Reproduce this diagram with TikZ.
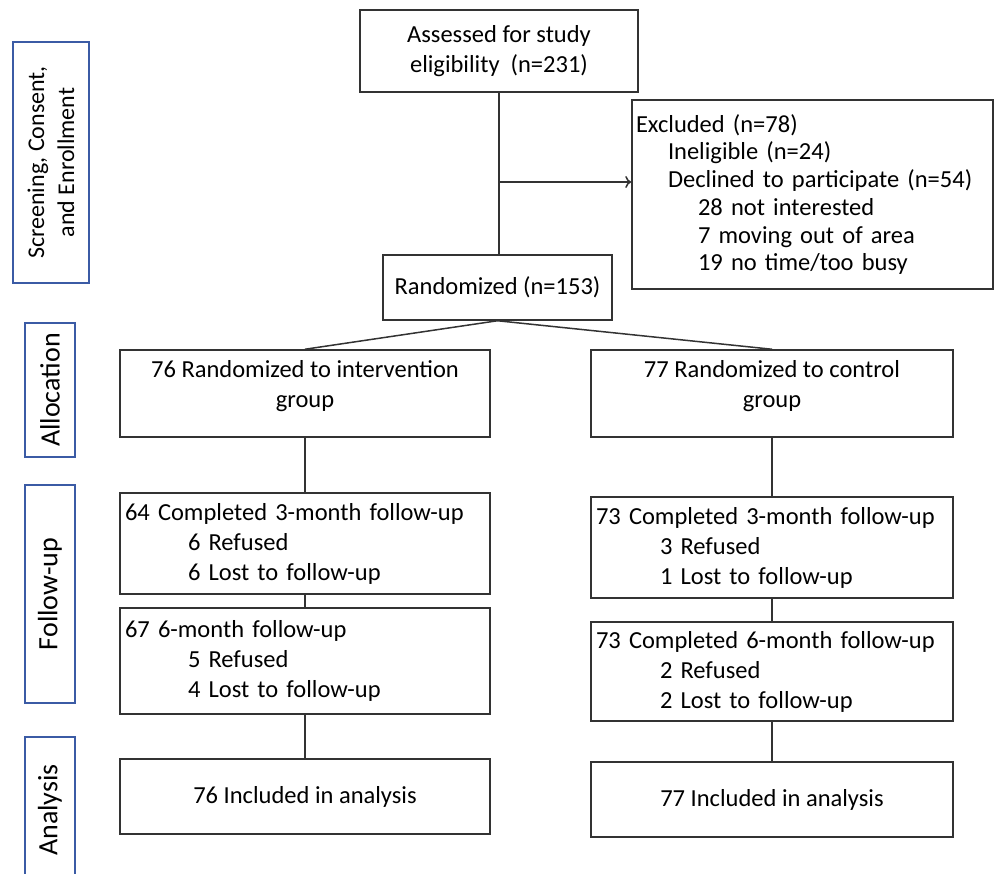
\documentclass[tikz,border=0pt]{standalone}
\usepackage{fontspec}
\setmainfont{Carlito}
\usetikzlibrary{arrows.meta}
\definecolor{boxline}{HTML}{333333}
\definecolor{labblue}{HTML}{3B5BA5}
\tikzset{
  box/.style={draw=boxline, line width=1.5pt, inner sep=0pt, font=\fontsize{24.5}{30}\selectfont, align=center},
  lbox/.style={draw=boxline, line width=1.5pt, inner ysep=0pt, inner xsep=5pt, font=\fontsize{24.5}{30}\selectfont, align=left},
  stagebox/.style={draw=labblue, line width=2.4pt, rotate=90, inner sep=0pt, font=\fontsize{28}{30}\selectfont, align=center},
  conn/.style={draw=boxline, line width=1.5pt},
}
\begin{document}
\begin{tikzpicture}[x=1pt,y=-1pt]
\useasboundingbox (0,0) rectangle (995,874);
% stage labels
\node[stagebox, minimum width=241pt, minimum height=76pt, font=\fontsize{24}{30}\selectfont] (scr) at (51,162.5) {Screening, Consent,\\and Enrollment};
\node[stagebox, minimum width=134pt, minimum height=50pt] (alloc) at (50,390) {Allocation};
\node[stagebox, minimum width=218pt, minimum height=50pt] (fol) at (50,594) {Follow-up};
\node[stagebox, minimum width=146pt, minimum height=50pt] (ana) at (50,810) {Analysis};
% top boxes
\node[box, minimum width=278pt, minimum height=82pt] (assess) at (499,51) {Assessed for study\\eligibility~ (n=231)};
\node[box, minimum width=229pt, minimum height=65pt] (rand) at (497.5,287.5) {Randomized (n=153)};
\node[lbox, text width=353pt, inner xsep=4pt, minimum height=189pt, font=\fontsize{24.5}{27.7}\selectfont] (excl) at (812.5,194.5) {Excluded (n=78)\\
\hspace*{32pt}Ineligible (n=24)\\
\hspace*{32pt}Declined to participate (n=54)\\
\hspace*{62pt}28 not interested\\
\hspace*{62pt}7 moving out of area\\
\hspace*{62pt}19 no time/too busy};
% allocation
\node[box, minimum width=370pt, minimum height=87pt] (interv) at (305,393.5) {76 Randomized to intervention\\group\\[-10pt]};
\node[box, minimum width=362pt, minimum height=87pt] (ctrl) at (772,393.5) {77 Randomized to control\\group\\[-10pt]};
% follow-up
\node[lbox, text width=360pt, minimum height=101pt] (i3) at (305,543.5) {64 Completed 3-month follow-up\\
\hspace*{63pt}6 Refused\\
\hspace*{63pt}6 Lost to follow-up};
\node[lbox, text width=352pt, minimum height=101pt] (c3) at (772,547.5) {73 Completed 3-month follow-up\\
\hspace*{64pt}3 Refused\\
\hspace*{64pt}1 Lost to follow-up};
\node[lbox, text width=360pt, minimum height=106pt] (i6) at (305,661) {67 6-month follow-up\\
\hspace*{63pt}5 Refused\\
\hspace*{63pt}4 Lost to follow-up};
\node[lbox, text width=352pt, minimum height=99pt] (c6) at (772,671.5) {73 Completed 6-month follow-up\\
\hspace*{64pt}2 Refused\\
\hspace*{64pt}2 Lost to follow-up};
% analysis
\node[box, minimum width=370pt, minimum height=75pt] (ia) at (305,796.5) {76 Included in analysis};
\node[box, minimum width=362pt, minimum height=75pt] (ca) at (772,799.5) {77 Included in analysis};
% connectors
\coordinate (branch) at (assess.south |- 0,182);
\draw[conn] (assess.south) -- (assess.south |- rand.north);
\draw[conn, -{To[length=6pt,width=12pt]}] (branch) -- (branch -| excl.west);
\draw[conn] (rand.south) -- (interv.north);
\draw[conn] (rand.south) -- (ctrl.north);
\draw[conn] (interv.south) -- (i3.north);
\draw[conn] (i3.south) -- (i6.north);
\draw[conn] (i6.south) -- (ia.north);
\draw[conn] (ctrl.south) -- (c3.north);
\draw[conn] (c3.south) -- (c6.north);
\draw[conn] (c6.south) -- (ca.north);
\end{tikzpicture}
\end{document}
